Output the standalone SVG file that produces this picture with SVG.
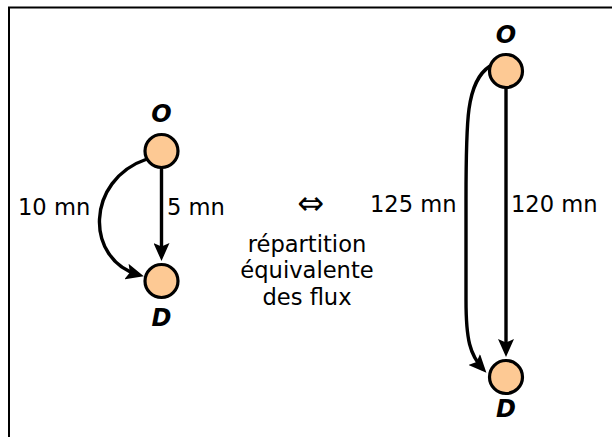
<svg xmlns="http://www.w3.org/2000/svg" width="612" height="437" viewBox="0 0 612 437">
<style>
.node{fill:#fdc994;stroke:#000;stroke-width:3.2}
.lbl{font-family:"DejaVu Sans",Verdana,sans-serif;font-size:24px;font-weight:bold;font-style:italic;text-anchor:middle;fill:#000}
.txt{font-family:"DejaVu Sans",Verdana,sans-serif;font-size:22.6px;fill:#000}
.mid{text-anchor:middle}
.edge{fill:none;stroke:#000;stroke-width:3.4;marker-end:url(#ah)}
</style>
<defs>
<marker id="ah" markerUnits="userSpaceOnUse" markerWidth="20" markerHeight="16" refX="13" refY="8" orient="auto">
<path d="M0,0 L18,8 L0,16 L3.5,8 z" fill="#000"/>
</marker>
</defs>
<rect width="612" height="437" fill="#fff"/>
<path d="M9,437 L9,7.5 L612,7.5" fill="none" stroke="#000" stroke-width="2"/>
<g id="connectors">
<line class="edge" x1="161.5" y1="167" x2="161.5" y2="256"/>
<path class="edge" d="M147,159 C85,180 85,260 139,275"/>
<line class="edge" x1="506" y1="87" x2="506" y2="352"/>
<path class="edge" d="M490,66 C466,82 466,120 466,200 L466,300 C466,340 470,355 483,369"/>
</g>
<g id="O1"><circle class="node" cx="161.5" cy="151" r="16.5"/><text class="lbl" x="161.5" y="122">O</text></g>
<g id="D1"><circle class="node" cx="161.5" cy="281" r="16.5"/><text class="lbl" x="161.5" y="326">D</text></g>
<g id="O2"><circle class="node" cx="506" cy="71" r="16.5"/><text class="lbl" x="506" y="42.5">O</text></g>
<g id="D2"><circle class="node" cx="506" cy="377" r="16.5"/><text class="lbl" x="506" y="417">D</text></g>
<g id="labels">
<text class="txt" x="18" y="215">10 mn</text>
<text class="txt" x="167" y="215">5 mn</text>
<text class="txt" x="370" y="212">125 mn</text>
<text class="txt" x="511" y="212">120 mn</text>
<text class="txt mid" x="311" y="214" style="font-size:32px">⇔</text>
<text class="txt mid" x="307" y="252">répartition</text>
<text class="txt mid" x="307" y="278">équivalente</text>
<text class="txt mid" x="307" y="305">des flux</text>
</g>
</svg>
